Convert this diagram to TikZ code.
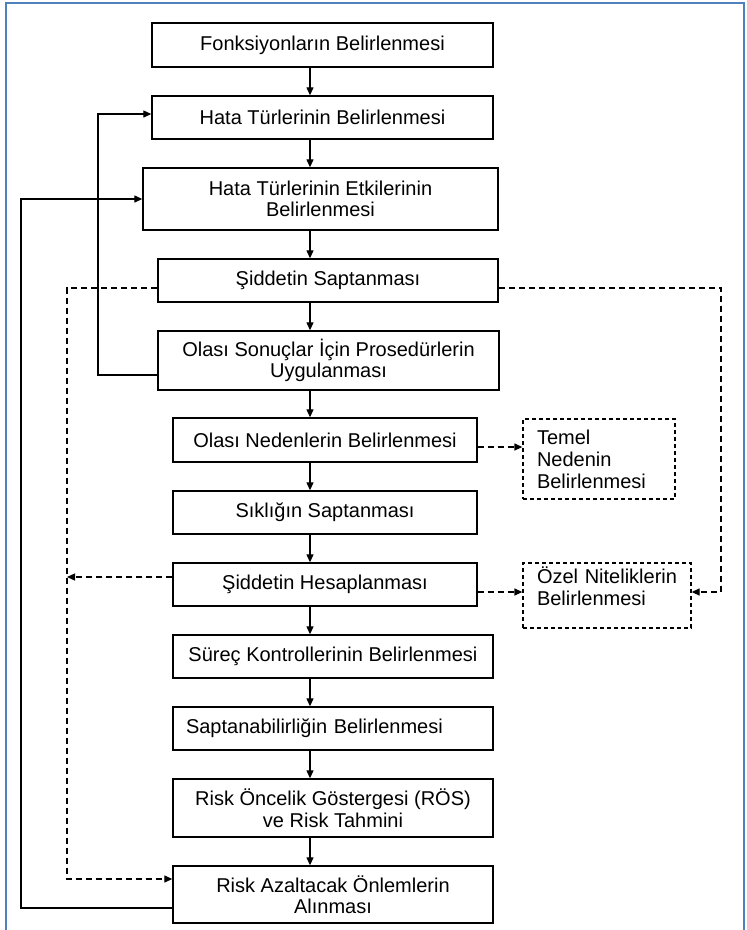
\documentclass[tikz,border=0pt]{standalone}
\usepackage{fontspec}
\setmainfont{Liberation Sans}
\usetikzlibrary{arrows.meta}
\definecolor{frameblue}{RGB}{79,129,189}
\tikzset{
  box/.style={draw, line width=1.4pt, inner sep=0pt, align=center,
    font=\fontsize{20}{21.5}\selectfont},
  dbox/.style={draw, line width=1.3pt, dash pattern=on 4pt off 3pt, inner xsep=14pt, inner ysep=0pt,
    align=left, font=\fontsize{20}{22}\selectfont},
  arr/.style={line width=1.3pt, -{Triangle[length=8pt,width=7pt]}},
  darr/.style={line width=1.3pt, dash pattern=on 6pt off 4pt, -{Triangle[length=8pt,width=7pt]}}
}
\begin{document}
\begin{tikzpicture}[x=1pt,y=-1pt]
\useasboundingbox (0,0) rectangle (747,930);
\fill[white] (0,0) rectangle (747,930);
\draw[frameblue, line width=2.5pt] (6,931) -- (6,3) -- (744,3) -- (744,931);

\node[box, minimum width=341pt, minimum height=44pt] (b1) at (322.5,45) {Fonksiyonların Belirlenmesi};
\node[box, minimum width=341pt, minimum height=43pt] (b2) at (322.5,117.5) {Hata Türlerinin Belirlenmesi};
\node[box, minimum width=355pt, minimum height=62pt] (b3) at (320.5,199) {Hata Türlerinin Etkilerinin\\Belirlenmesi};
\node[box, minimum width=340pt, minimum height=43pt] (b4) at (328,280.5) {Şiddetin Saptanması};
\node[box, minimum width=341pt, minimum height=59pt] (b5) at (328.5,360.5) {Olası Sonuçlar İçin Prosedürlerin\\Uygulanması};
\node[box, minimum width=304pt, minimum height=44pt] (b6) at (325,440) {Olası Nedenlerin Belirlenmesi};
\node[dbox, text width=124pt, minimum height=80pt] (t) at (599,459) {Temel\\Nedenin\\Belirlenmesi};
\node[box, minimum width=304pt, minimum height=43pt] (b7) at (325,512.5) {Sıklığın Saptanması};
\node[box, minimum width=304pt, minimum height=43pt] (b8) at (325,584.5) {Şiddetin Hesaplanması};
\node[dbox, text width=140pt, minimum height=65pt] (oz) at (607,595.5) {\mbox{Özel Niteliklerin}\\Belirlenmesi\\[-4pt]\mbox{}};
\node[box, minimum width=320pt, minimum height=43pt] (b9) at (333,656.5) {Süreç Kontrollerinin Belirlenmesi};
\node[box, minimum width=320pt, minimum height=43pt, text width=294pt, align=left, inner xsep=13pt] (b10) at (333,728.5) {Saptanabilirliğin Belirlenmesi};
\node[box, minimum width=320pt, minimum height=58pt] (b11) at (333,808) {Risk Öncelik Göstergesi (RÖS)\\ve Risk Tahmini};
\node[box, minimum width=320pt, minimum height=57pt] (b12) at (333,894.5) {Risk Azaltacak Önlemlerin\\Alınması};

\coordinate (ax) at (310,0);
\foreach \a/\b in {b1/b2,b2/b3,b3/b4,b4/b5,b5/b6,b6/b7,b7/b8,b8/b9,b9/b10,b10/b11,b11/b12}
  \draw[arr] (\a.south -| ax) -- (\b.north -| ax);

% solid feedback loops
\draw[arr] (b5.west |- 0,375) -| (98,114) -- (b2.west |- 0,114);
\draw[arr] (b12.west |- 0,908) -| (21,199) -- (b3.west);

% dashed connectors
\draw[darr] (b4.west |- 0,288) -| (67,879) -- (b12.west |- 0,879);
\coordinate (d1) at (67,577);
\draw[darr] (b8.west |- 0,577) -- (d1);
\draw[darr] (b4.east |- 0,288) -| (721,592) -- (oz.east |- 0,592);
\draw[darr] (b6.east |- 0,447) -- (t.west |- 0,447);
\draw[darr] (b8.east |- 0,592) -- (oz.west |- 0,592);
\end{tikzpicture}
\end{document}
